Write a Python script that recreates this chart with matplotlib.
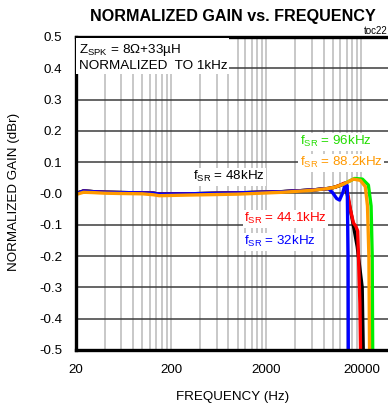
import numpy as np
import matplotlib
matplotlib.use("Agg")
import matplotlib.pyplot as plt
from matplotlib.ticker import FixedLocator, NullFormatter

plt.rcParams['font.family'] = ['Liberation Sans', 'DejaVu Sans']
plt.rcParams['mathtext.fontset'] = 'custom'
plt.rcParams['mathtext.rm'] = 'Liberation Sans'
plt.rcParams['mathtext.it'] = 'Liberation Sans:italic'
plt.rcParams['mathtext.bf'] = 'Liberation Sans:bold'

# flat part of the response (shared frequencies)
freq_flat = [20, 24, 30, 40, 60, 100, 130, 150, 300, 1000, 3000, 6000, 9000]
gain_flat = [0.0, 0.008, 0.006, 0.004, 0.003, 0.002, 0.001, -0.002, -0.001, 0.002, 0.006, 0.011, 0.016]
gain_flat_orange = [-0.003, 0.004, 0.003, 0.001, 0.0, -0.001, -0.004, -0.007, -0.005, -0.002, 0.004, 0.010, 0.016]

# roll-off near the top of the band, one set per sample rate
freq_32 = [10000, 11000, 11800, 12800, 13600, 14200, 14500, 14600]
gain_32 = [0.002, -0.016, -0.021, 0.004, 0.033, 0.025, -0.2, -0.6]

freq_441 = [10500, 12000, 13200, 14200, 15300, 16500, 17500, 18300, 19300, 19800]
gain_441 = [0.02, 0.027, 0.033, 0.01, -0.05, -0.094, -0.105, -0.12, -0.35, -0.6]

freq_48 = [10500, 12000, 13400, 14600, 16100, 18100, 20400, 21200]
gain_48 = [0.02, 0.026, 0.032, -0.02, -0.085, -0.17, -0.3, -0.6]

freq_882 = [10500, 13000, 16500, 19500, 22000, 23200, 24000, 24500]
gain_882 = [0.02, 0.03, 0.046, 0.042, 0.022, -0.04, -0.2, -0.6]

freq_96 = [10500, 13000, 17000, 20500, 23700, 25300, 26000, 26400]
gain_96 = [0.02, 0.03, 0.048, 0.046, 0.027, -0.04, -0.2, -0.6]

series = [
    ("96kHz", '#00ee00', '#22dd00', freq_96, gain_96, gain_flat),
    ("48kHz", 'black', 'black', freq_48, gain_48, gain_flat),
    ("44.1kHz", '#ff0000', '#ff0000', freq_441, gain_441, gain_flat),
    ("32kHz", '#0000ff', '#0000ff', freq_32, gain_32, gain_flat),
    ("88.2kHz", '#ff9900', '#ff9900', freq_882, gain_882, gain_flat_orange),
]

# label anchor (freq, gain) for each curve label
label_pos = {
    "96kHz": (4500, 0.165),
    "88.2kHz": (4500, 0.098),
    "48kHz": (340, 0.053),
    "44.1kHz": (1170, -0.081),
    "32kHz": (1170, -0.154),
}

fig = plt.figure(figsize=(3.88, 4.08), dpi=100)
ax = fig.add_axes([76 / 388, 58 / 408, 314 / 388, 313 / 408])

for name, lc, tc, fr, gn, flat in series:
    x = np.array(freq_flat + fr)
    y = np.array(flat + gn)
    ax.plot(x, y, color=lc, lw=2.4, solid_joinstyle='round')
    lx, ly = label_pos[name]
    ax.text(lx, ly, r"f$_{\mathrm{SR}}$ = " + name, color=tc, fontsize=9.6,
            ha='left', va='center', zorder=5,
            bbox=dict(fc='white', ec='none', pad=1.0))

ax.set_xscale('log')
ax.set_xlim(20, 40000)
ax.set_ylim(-0.5, 0.5)

major_x = [20, 200, 2000, 20000]
minor_x = [20 * k * 10 ** n for n in range(4) for k in range(2, 10)]
ax.xaxis.set_major_locator(FixedLocator(major_x))
ax.xaxis.set_minor_locator(FixedLocator(minor_x))
ax.xaxis.set_minor_formatter(NullFormatter())
ax.set_xticklabels([str(v) for v in major_x])
yt = np.round(np.arange(-0.5, 0.51, 0.1), 1)
ax.set_yticks(yt)
ax.set_yticklabels([f"{v:.1f}" for v in yt])

ax.grid(True, which='both', axis='x', color='#c4c4c4', lw=1.3)
ax.grid(True, which='major', axis='y', color='#3c3c3c', lw=1.1)
ax.set_axisbelow(True)
ax.tick_params(which='both', length=0, labelsize=9.6, pad=10)

for side in ['left', 'bottom', 'top']:
    ax.spines[side].set_linewidth(2.4)
ax.spines['right'].set_visible(False)

ax.text(0.008, 0.985, "Z$_{\\mathrm{SPK}}$ = 8\u03a9+33\u00b5H\nNORMALIZED  TO 1kHz",
        transform=ax.transAxes, ha='left', va='top', fontsize=9.7,
        linespacing=1.25, zorder=5, bbox=dict(fc='white', ec='none', pad=1.5))

fig.text(233 / 388, 1 - 17 / 408, "NORMALIZED GAIN vs. FREQUENCY",
         ha='center', va='center', fontsize=11.6, fontweight='bold')
fig.text(364 / 388, 1 - 31 / 408, "toc22", ha='left', va='center', fontsize=7)
fig.text(233 / 388, 1 - 397 / 408, "FREQUENCY (Hz)", ha='center', va='center', fontsize=9.6)
fig.text(14 / 388, 1 - 192 / 408, "NORMALIZED GAIN (dBr)", ha='center', va='center',
         rotation=90, fontsize=9.6)

fig.savefig("out.png", dpi=100)
